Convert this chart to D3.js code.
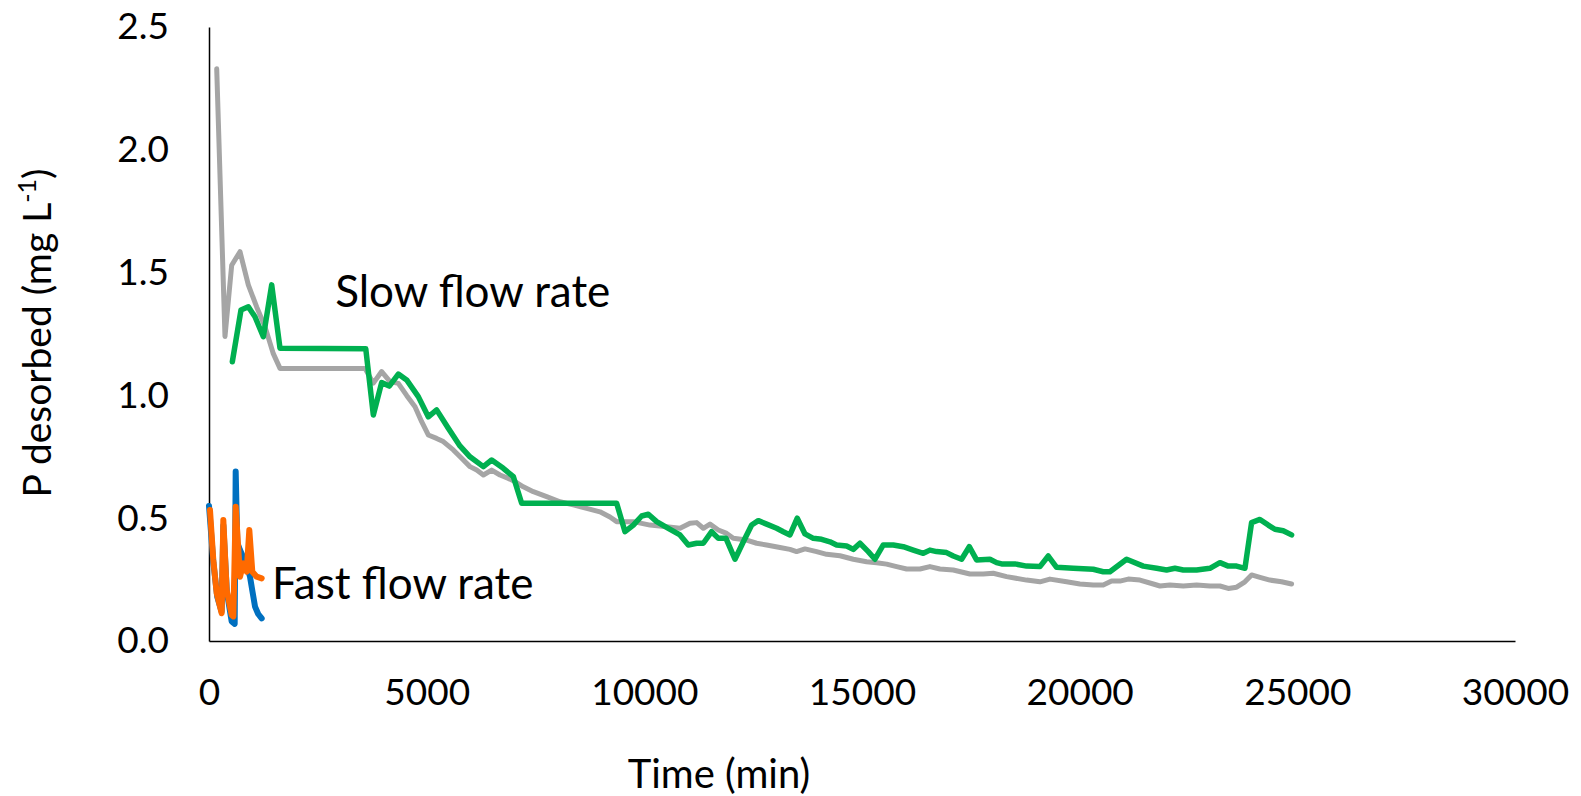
<!doctype html>
<html>
  <head>
    <meta charset="utf-8">
    <script src="https://d3js.org/d3.v7.min.js"></script>
    <style>
      html, body { margin: 0; padding: 0; background: #fff; overflow: hidden; }
      svg { display: block; }
      text { font-family: Lato, "Open Sans", sans-serif; fill: #000; }
      .axis path { stroke: #000; stroke-width: 1.5; }
      .axis text { font-size: 37px; }
      .series { fill: none; stroke-linejoin: round; stroke-linecap: round; }
    </style>
  </head>
  <body>
    <script>
    // slow flow rate, replicate 1 (grey)
    var slowATime = [177, 367, 521, 712, 903, 1095, 1286, 1477, 1631, 3583, 3775, 3966, 4158, 4349, 4540, 4732, 4885, 5037, 5229, 5382, 5612, 5804, 5995, 6149, 6302, 6493, 6684, 6876, 7029, 7220, 7450, 7756, 8062, 8368, 8675, 8981, 9211, 9364, 9594, 9747, 10130, 10513, 10819, 11049, 11202, 11355, 11508, 11700, 11891, 12044, 12350, 12580, 12810, 13116, 13345, 13498, 13690, 13958, 14188, 14494, 14800, 15106, 15336, 15565, 15795, 16025, 16331, 16560, 16790, 17097, 17479, 17785, 18015, 18322, 18781, 19087, 19317, 19700, 20006, 20312, 20542, 20733, 20925, 21116, 21385, 21691, 21844, 22074, 22380, 22686, 22992, 23222, 23413, 23605, 23796, 23949, 24141, 24370, 24638, 24868];
    var slowAP = [2.33, 1.24, 1.53, 1.585, 1.45, 1.36, 1.28, 1.17, 1.11, 1.11, 1.05, 1.097, 1.056, 1.049, 1.0, 0.954, 0.893, 0.839, 0.825, 0.812, 0.778, 0.744, 0.71, 0.696, 0.676, 0.696, 0.676, 0.662, 0.649, 0.628, 0.608, 0.588, 0.567, 0.554, 0.54, 0.526, 0.505, 0.486, 0.486, 0.486, 0.472, 0.465, 0.459, 0.479, 0.482, 0.459, 0.476, 0.452, 0.438, 0.418, 0.411, 0.398, 0.391, 0.381, 0.373, 0.364, 0.375, 0.364, 0.353, 0.347, 0.333, 0.323, 0.319, 0.313, 0.303, 0.293, 0.293, 0.303, 0.293, 0.289, 0.273, 0.273, 0.276, 0.262, 0.248, 0.241, 0.252, 0.241, 0.232, 0.228, 0.228, 0.244, 0.244, 0.252, 0.248, 0.232, 0.224, 0.228, 0.224, 0.228, 0.224, 0.224, 0.214, 0.219, 0.241, 0.269, 0.259, 0.248, 0.241, 0.232];

    // slow flow rate, replicate 2 (green)
    var slowBTime = [536, 735, 903, 1056, 1248, 1440, 1631, 3601, 3775, 3966, 4141, 4349, 4540, 4808, 5037, 5229, 5497, 5765, 5995, 6302, 6493, 6761, 6991, 7182, 9364, 9556, 9747, 9939, 10092, 10283, 10551, 10819, 11010, 11202, 11355, 11546, 11700, 11876, 12082, 12274, 12465, 12618, 12810, 13040, 13192, 13345, 13513, 13690, 13881, 14073, 14264, 14417, 14647, 14800, 14953, 15144, 15298, 15489, 15719, 15948, 16178, 16408, 16560, 16714, 16943, 17097, 17288, 17464, 17632, 17938, 18092, 18207, 18513, 18781, 19087, 19279, 19470, 19853, 20312, 20542, 20695, 21078, 21461, 21768, 21997, 22188, 22380, 22686, 22992, 23222, 23413, 23605, 23796, 23949, 24141, 24332, 24485, 24676, 24868];
    var slowBP = [1.137, 1.348, 1.361, 1.32, 1.239, 1.45, 1.192, 1.19, 0.92, 1.052, 1.038, 1.087, 1.063, 0.995, 0.913, 0.941, 0.866, 0.794, 0.75, 0.71, 0.737, 0.703, 0.669, 0.561, 0.561, 0.445, 0.472, 0.509, 0.516, 0.486, 0.459, 0.432, 0.391, 0.398, 0.398, 0.445, 0.418, 0.418, 0.333, 0.404, 0.472, 0.49, 0.476, 0.459, 0.445, 0.432, 0.5, 0.436, 0.418, 0.414, 0.404, 0.391, 0.387, 0.373, 0.398, 0.364, 0.333, 0.391, 0.391, 0.384, 0.37, 0.357, 0.37, 0.364, 0.36, 0.346, 0.333, 0.384, 0.33, 0.333, 0.319, 0.314, 0.314, 0.305, 0.303, 0.346, 0.3, 0.296, 0.292, 0.282, 0.282, 0.333, 0.305, 0.296, 0.289, 0.296, 0.289, 0.289, 0.296, 0.319, 0.305, 0.305, 0.296, 0.482, 0.495, 0.472, 0.455, 0.449, 0.432];

    // fast flow rate, replicate 1 (blue)
    var fastATime = [0, 100, 190, 290, 330, 410, 520, 590, 613, 650, 712, 790, 860, 942, 1000, 1057, 1130, 1210];
    var fastAP = [0.55, 0.32, 0.18, 0.12, 0.47, 0.2, 0.08, 0.07, 0.69, 0.4, 0.37, 0.34, 0.31, 0.262, 0.2, 0.14, 0.11, 0.092];

    // fast flow rate, replicate 2 (orange)
    var fastBTime = [23, 99, 177, 291, 329, 406, 521, 560, 613, 712, 788, 865, 926, 995, 1095, 1210];
    var fastBP = [0.533, 0.33, 0.194, 0.113, 0.493, 0.208, 0.106, 0.1, 0.547, 0.262, 0.316, 0.282, 0.452, 0.282, 0.262, 0.255];

    var xTicks = [0, 5000, 10000, 15000, 20000, 25000, 30000];
    var yTicks = [0, 0.5, 1.0, 1.5, 2.0, 2.5];

    var width = 1581;
    var height = 796;
    var margin = { top: 27, right: 66, bottom: 155, left: 209 };
    var innerWidth = width - margin.left - margin.right;
    var innerHeight = height - margin.top - margin.bottom;

    var svg = d3.select("body")
              .append("svg")
              .attr("width", width)
              .attr("height", height);

    var g = svg.append("g")
              .attr("transform", "translate(" + margin.left + "," + margin.top + ")");

    var x = d3.scaleLinear().domain([0, 30000]).range([0, innerWidth]);
    var y = d3.scaleLinear().domain([0, 2.5]).range([innerHeight, 0]);

    // axes
    var xAxis = d3.axisBottom(x).tickValues(xTicks).tickSize(0).tickPadding(38)
                  .tickFormat(d3.format("d"));
    g.append("g")
      .attr("class", "axis")
      .attr("transform", "translate(0," + innerHeight + ")")
      .call(xAxis);

    var yAxis = d3.axisLeft(y).tickValues(yTicks).tickSize(0).tickPadding(40)
                  .tickFormat(d3.format(".1f"));
    g.append("g")
      .attr("class", "axis")
      .call(yAxis);

    // series
    var line = d3.line()
                .x(function(d) { return x(d[0]); })
                .y(function(d) { return y(d[1]); });

    var series = [
      { t: slowATime, p: slowAP, color: "#a5a5a5", w: 5 },
      { t: slowBTime, p: slowBP, color: "#00b050", w: 5.5 },
      { t: fastATime, p: fastAP, color: "#0070c0", w: 6 },
      { t: fastBTime, p: fastBP, color: "#ff6a00", w: 6 }
    ];

    g.selectAll(".series")
      .data(series)
      .enter()
      .append("path")
      .attr("class", "series")
      .attr("stroke", function(d) { return d.color; })
      .attr("stroke-width", function(d) { return d.w; })
      .attr("d", function(d) {
        return line(d.t.map(function(v, i) { return [v, d.p[i]]; }));
      });

    // annotations
    g.append("text")
      .attr("x", x(2900))
      .attr("y", y(1.36))
      .style("font-size", "44px")
      .text("Slow flow rate");

    g.append("text")
      .attr("x", x(1450))
      .attr("y", y(0.17))
      .style("font-size", "44px")
      .text("Fast flow rate");

    // axis titles
    svg.append("text")
      .attr("x", 719)
      .attr("y", 788)
      .attr("text-anchor", "middle")
      .style("font-size", "40px")
      .text("Time (min)");

    var yTitle = svg.append("text")
      .attr("transform", "translate(51,333) rotate(-90)")
      .attr("text-anchor", "middle")
      .style("font-size", "39px");
    yTitle.append("tspan").text("P desorbed (mg L");
    yTitle.append("tspan").attr("dy", -15).style("font-size", "25px").text("-1");
    yTitle.append("tspan").attr("dy", 15).text(")");
    </script>
  </body>
</html>
